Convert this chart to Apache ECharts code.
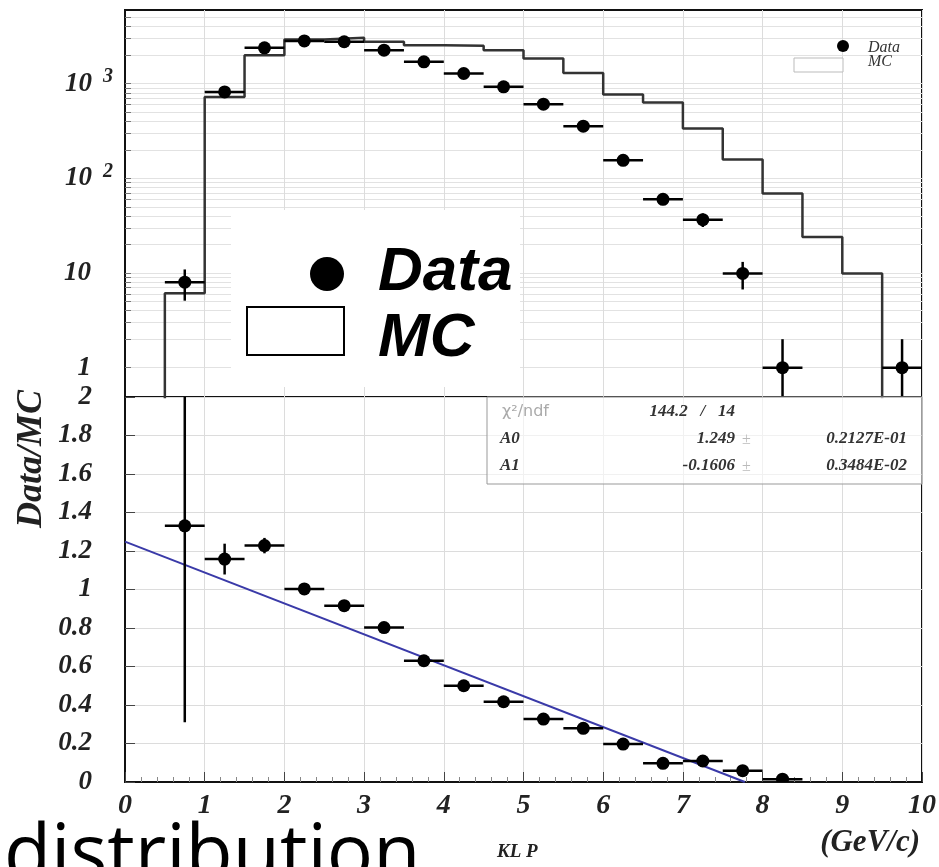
<!DOCTYPE html>
<html><head><meta charset="utf-8">
<script src="https://cdn.jsdelivr.net/npm/echarts@6/dist/echarts.min.js"></script>
<style>html,body{margin:0;padding:0;background:#fff;overflow:hidden}#c{width:939px;height:867px}</style>
</head><body><div id="c"></div>
<script>
// ---------- data ----------
const binHalfWidth = 0.25;
const dataX   = [0.75,1.25,1.75,2.25,2.75,3.25,3.75,4.25,4.75,5.25,5.75,6.25,6.75,7.25,7.75,8.25,9.75];
const dataY   = [8.0,819,2390,2830,2770,2260,1700,1280,925,607,356,155,60,36.6,9.9,1.0,1.0];
const dataErr = [2.9,29,49,53,53,48,41,36,30,25,19,12,7.8,6.0,3.2,1.0,1.0];

const mcEdges = [0,0.5,1,1.5,2,2.5,3,3.5,4,4.5,5,5.5,6,6.5,7,7.5,8,8.5,9,9.5,10];
const mcY     = [0,6.1,725,2000,2930,3050,2770,2550,2510,2260,1846,1300,769,632,336,158,69,24,9.9,0];

const ratioX   = [0.75,1.25,1.75,2.25,2.75,3.25,3.75,4.25,4.75,5.25,5.75,6.25,6.75,7.25,7.75,8.25];
const ratioY   = [1.331,1.158,1.228,1.003,0.916,0.802,0.63,0.50,0.417,0.327,0.279,0.197,0.097,0.109,0.059,0.0145];
const ratioErr = [1.02,0.08,0.04,0.02,0.02,0.02,0.02,0.02,0.02,0.02,0.02,0.025,0.02,0.025,0.025,0.015];

const fitX = [0, 7.777];
const fitY = [1.249, 0.0];

const logLabelValues = [1,10,100,1000];
const logTickValues = [1,2,3,4,5,6,7,8,9,10,20,30,40,50,60,70,80,90,100,200,300,400,500,600,700,800,900,1000,2000,3000,4000,5000];
const logMin = 0.49, logMax = 6000;

// ---------- build ----------
const serif = 'Liberation Serif';
const labFont = {fontFamily: serif, fontStyle: 'italic', fontWeight: 'bold', color: '#222'};
const grid1 = '#dcdcdc';

const mcLine = mcY.map((v,i)=>[mcEdges[i], v > 0 ? v : 1e-3]);
mcLine.push([mcEdges[mcEdges.length-1], mcY[mcY.length-1] > 0 ? mcY[mcY.length-1] : 1e-3]);

function errRender(yLo, yHi) {
  return function (params, api) {
    const x = api.value(0), y = api.value(1), e = api.value(2);
    const lo = Math.max(y - e, yLo), hi = Math.min(y + e, yHi);
    const c = api.coord([x, y]);
    const l = api.coord([x - binHalfWidth, y]), r = api.coord([x + binHalfWidth, y]);
    const t = api.coord([x, hi]), b = api.coord([x, lo]);
    const st = {stroke: '#000', lineWidth: 2.5};
    return {type: 'group', children: [
      {type: 'line', shape: {x1: l[0], y1: l[1], x2: r[0], y2: r[1]}, style: st},
      {type: 'line', shape: {x1: t[0], y1: t[1], x2: b[0], y2: b[1]}, style: st},
      {type: 'circle', shape: {cx: c[0], cy: c[1], r: 6.5}, style: {fill: '#000'}}
    ]};
  };
}

const chart = echarts.init(document.getElementById('c'), null, {renderer: 'canvas'});
const option = {
  animation: false,
  grid: [
    {left: 125, top: 10, width: 797, height: 387, show: true, borderColor: '#111', borderWidth: 2, backgroundColor: 'transparent'},
    {left: 125, top: 397, width: 797, height: 385, show: true, borderColor: '#111', borderWidth: 2, backgroundColor: 'transparent'}
  ],
  xAxis: [
    {gridIndex: 0, type: 'value', min: 0, max: 10, interval: 1,
     axisLine: {show: false}, axisLabel: {show: false},
     axisTick: {show: false},
     splitLine: {show: true, lineStyle: {color: grid1, width: 1}}},
    {gridIndex: 1, type: 'value', min: 0, max: 10, interval: 1,
     axisLine: {show: true, lineStyle: {color: '#111', width: 2}},
     axisTick: {show: true, inside: true, length: 10, lineStyle: {color: '#444'}},
     minorTick: {show: true, splitNumber: 5, length: 5, lineStyle: {color: '#888'}},
     axisLabel: Object.assign({fontSize: 28, margin: 10}, labFont),
     splitLine: {show: true, lineStyle: {color: grid1, width: 1}}}
  ],
  yAxis: [
    {gridIndex: 0, type: 'log', logBase: 10, min: logMin, max: logMax,
     axisLine: {show: true, lineStyle: {color: '#111', width: 2}},
     axisTick: {show: true, inside: true, length: 6, customValues: logTickValues, lineStyle: {color: '#777'}},
     axisLabel: Object.assign({fontSize: 27, margin: 12, customValues: logLabelValues,
       formatter: function (v) {
         const e = Math.round(Math.log10(v));
         if (e <= 1) return '{b|' + (e === 0 ? '1' : '10') + '}{sp| }';
         return '{b|10}{s|' + e + '}';
       },
       rich: {
         b: Object.assign({fontSize: 27}, labFont),
         s: Object.assign({fontSize: 20, padding: [0, 0, 14, 11]}, labFont),
         sp: {width: 22}
       }}, labFont),
     splitLine: {show: true, lineStyle: {color: '#e2e2e2', width: 1}}},
    {gridIndex: 1, type: 'value', min: 0, max: 2, interval: 0.2,
     axisLine: {show: true, lineStyle: {color: '#111', width: 2}},
     axisTick: {show: true, inside: true, length: 10, lineStyle: {color: '#444'}},
     axisLabel: Object.assign({fontSize: 27, margin: 33}, labFont),
     splitLine: {show: true, lineStyle: {color: grid1, width: 1}}}
  ],
  series: [
    {type: 'line', xAxisIndex: 0, yAxisIndex: 0, step: 'end', symbol: 'none', clip: true,
     lineStyle: {color: '#333', width: 2.5}, data: mcLine, z: 2},
    {type: 'custom', xAxisIndex: 0, yAxisIndex: 0, clip: true,
     data: dataX.map((x, i) => [x, dataY[i], dataErr[i]]),
     renderItem: errRender(logMin, logMax), z: 3},
    {type: 'line', xAxisIndex: 1, yAxisIndex: 1, symbol: 'none', clip: true,
     lineStyle: {color: '#3a3aa8', width: 2}, data: fitX.map((x, i) => [x, fitY[i]]), z: 2},
    {type: 'custom', xAxisIndex: 1, yAxisIndex: 1, clip: true,
     data: ratioX.map((x, i) => [x, ratioY[i], ratioErr[i]]),
     renderItem: errRender(0, 2), z: 3}
  ],
  graphic: [
    // small ROOT legend (top right)
    {type: 'circle', shape: {cx: 843, cy: 46, r: 6}, style: {fill: '#000'}, z: 10},
    {type: 'rect', shape: {x: 794, y: 58, width: 49, height: 14}, style: {fill: '#fff', stroke: '#bbb', lineWidth: 1}, z: 10},
    {type: 'text', x: 868, y: 48, style: {text: 'Data', fontFamily: serif, fontStyle: 'italic', fontSize: 16, fill: '#333', textVerticalAlign: 'middle'}, z: 10},
    {type: 'text', x: 868, y: 62, style: {text: 'MC', fontFamily: serif, fontStyle: 'italic', fontSize: 16, fill: '#333', textVerticalAlign: 'middle'}, z: 10},
    // fit statistics box
    {type: 'rect', shape: {x: 487, y: 397, width: 435, height: 87}, style: {fill: 'rgba(255,255,255,0.6)', stroke: '#999', lineWidth: 1}, z: 10},
    {type: 'text', x: 502, y: 412, style: {text: 'χ²/ndf', fontFamily: 'DejaVu Sans', fontSize: 16, fill: '#aaa', textVerticalAlign: 'middle'}, z: 11},
    {type: 'text', x: 735, y: 412, style: {text: '144.2   /   14', fontFamily: serif, fontStyle: 'italic', fontWeight: 'bold', fontSize: 17, fill: '#333', textAlign: 'right', textVerticalAlign: 'middle'}, z: 11},
    {type: 'text', x: 500, y: 439, style: {text: 'A0', fontFamily: serif, fontStyle: 'italic', fontWeight: 'bold', fontSize: 17, fill: '#333', textVerticalAlign: 'middle'}, z: 11},
    {type: 'text', x: 735, y: 439, style: {text: '1.249', fontFamily: serif, fontStyle: 'italic', fontWeight: 'bold', fontSize: 17, fill: '#333', textAlign: 'right', textVerticalAlign: 'middle'}, z: 11},
    {type: 'text', x: 742, y: 440, style: {text: '±', fontFamily: serif, fontSize: 16, fill: '#bbb', textVerticalAlign: 'middle'}, z: 11},
    {type: 'text', x: 907, y: 439, style: {text: '0.2127E-01', fontFamily: serif, fontStyle: 'italic', fontWeight: 'bold', fontSize: 17, fill: '#333', textAlign: 'right', textVerticalAlign: 'middle'}, z: 11},
    {type: 'text', x: 500, y: 466, style: {text: 'A1', fontFamily: serif, fontStyle: 'italic', fontWeight: 'bold', fontSize: 17, fill: '#333', textVerticalAlign: 'middle'}, z: 11},
    {type: 'text', x: 735, y: 466, style: {text: '-0.1606', fontFamily: serif, fontStyle: 'italic', fontWeight: 'bold', fontSize: 17, fill: '#333', textAlign: 'right', textVerticalAlign: 'middle'}, z: 11},
    {type: 'text', x: 742, y: 467, style: {text: '±', fontFamily: serif, fontSize: 16, fill: '#bbb', textVerticalAlign: 'middle'}, z: 11},
    {type: 'text', x: 907, y: 466, style: {text: '0.3484E-02', fontFamily: serif, fontStyle: 'italic', fontWeight: 'bold', fontSize: 17, fill: '#333', textAlign: 'right', textVerticalAlign: 'middle'}, z: 11},
    // big overlay legend
    {type: 'rect', shape: {x: 231, y: 210, width: 289, height: 177}, style: {fill: '#fff'}, z: 20},
    {type: 'circle', shape: {cx: 327, cy: 274, r: 17}, style: {fill: '#000'}, z: 21},
    {type: 'rect', shape: {x: 247, y: 307, width: 97, height: 48}, style: {fill: '#fff', stroke: '#000', lineWidth: 2}, z: 21},
    {type: 'text', x: 378, y: 273, style: {text: 'Data', fontFamily: 'Liberation Sans', fontStyle: 'italic', fontWeight: 'bold', fontSize: 62, fill: '#000', textVerticalAlign: 'middle'}, z: 21},
    {type: 'text', x: 378, y: 339, style: {text: 'MC', fontFamily: 'Liberation Sans', fontStyle: 'italic', fontWeight: 'bold', fontSize: 62, fill: '#000', textVerticalAlign: 'middle'}, z: 21},
    // axis titles
    {type: 'text', x: 32, y: 459, rotation: Math.PI / 2, style: {text: 'Data/MC', fontFamily: serif, fontStyle: 'italic', fontWeight: 'bold', fontSize: 36, fill: '#222', textAlign: 'center', textVerticalAlign: 'middle'}, z: 10},
    {type: 'text', x: 497, y: 852, style: {text: 'KL P', fontFamily: serif, fontStyle: 'italic', fontWeight: 'bold', fontSize: 19, fill: '#222', textVerticalAlign: 'middle'}, z: 10},
    {type: 'text', x: 920, y: 843, style: {text: '(GeV/c)', fontFamily: serif, fontStyle: 'italic', fontWeight: 'bold', fontSize: 31, fill: '#222', textAlign: 'right', textVerticalAlign: 'middle'}, z: 10},
    // slide caption fragment
    {type: 'text', x: 4, y: 857, style: {text: 'distribution', fontFamily: 'Open Sans', fontSize: 77, fill: '#000', textVerticalAlign: 'middle'}, z: 30}
  ]
};
chart.setOption(option);
</script>
</body></html>
